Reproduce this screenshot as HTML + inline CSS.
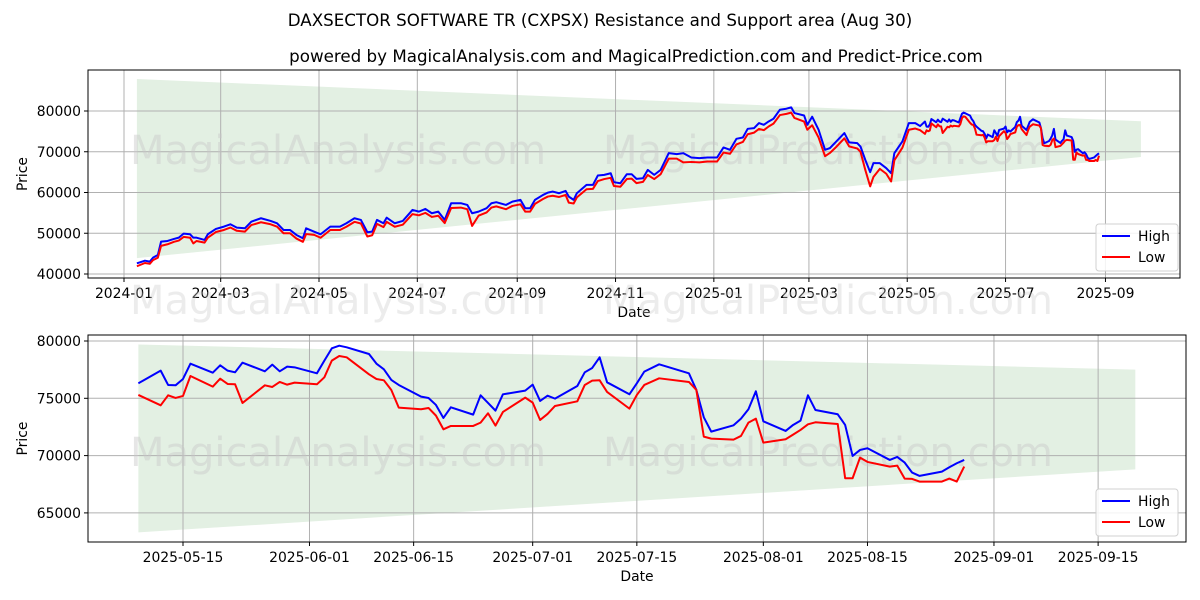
<!DOCTYPE html>
<html><head><meta charset="utf-8"><style>
body{margin:0;background:#fff}
svg{display:block;font-family:"DejaVu Sans","Liberation Sans",sans-serif}
</style></head><body>
<svg id="chart" width="1200" height="600" viewBox="0 0 1200 600" xmlns="http://www.w3.org/2000/svg">
<text x="600" y="26" font-size="16.7" text-anchor="middle">DAXSECTOR SOFTWARE TR (CXPSX) Resistance and Support area (Aug 30)</text>
<text x="636" y="62" font-size="16.7" text-anchor="middle">powered by MagicalAnalysis.com and MagicalPrediction.com and Predict-Price.com</text>
<g id="top"></g>
<g id="bot"></g>
</svg>
<script>
// Top chart: days since 2024-01-01
const topDays=[8,13,16,18,21,23,27,31,34,37,41,43,45,50,52,57,62,66,70,75,79,85,91,95,99,103,107,111,113,118,122,128,134,138,143,147,151,154,157,161,163,168,173,179,183,187,191,195,199,203,209,213,216,220,225,228,231,237,241,246,249,252,255,260,263,266,270,274,276,279,281,287,291,294,298,302,304,308,312,315,318,322,325,329,333,338,343,347,352,357,362,368,372,376,380,384,387,391,394,397,400,403,407,411,414,416,422,424,427,431,435,438,442,447,450,455,457,460,463,465,469,473,476,478,483,487,491];
const topHigh=[42625,43270,43030,44010,44670,47940,48110,48600,48920,49900,49750,48920,48920,48350,49750,51060,51630,52200,51380,51220,52850,53680,53020,52450,50810,50810,49580,48770,51220,50390,49750,51630,51630,52450,53680,53270,50240,50390,53270,52450,53830,52450,53020,55720,55310,55970,54910,55310,53270,57370,57370,56950,54910,55310,56140,57370,57620,56950,57770,58190,56140,56140,58190,59400,59970,60230,59820,60390,58990,58190,59820,61870,61870,64160,64320,64730,62530,62280,64490,64490,63340,63510,65550,64320,65550,69650,69410,69650,68590,68430,68590,68590,71050,70470,73170,73490,75630,75800,77030,76610,77430,78100,80320,80560,80890,79500,78900,76610,78600,75380,70470,70890,72520,74580,72290,72110,71280,67970,64990,67200,67200,65970,64730,69650,72520,77030,77030];
const topLow=[41900,42700,42500,43400,44000,46900,47300,47900,48200,49100,48900,47500,48100,47700,48900,50300,50800,51400,50600,50400,52000,52700,52200,51600,50000,50000,48700,47900,49800,49600,48900,50800,50800,51600,52800,52400,49200,49500,52300,51500,52800,51600,52100,54700,54400,55000,54000,54300,52500,56200,56300,55900,51800,54300,55100,56300,56600,55900,56700,57100,55300,55300,57200,58400,59000,59200,58900,59400,57500,57300,58800,60800,60900,62800,63300,63600,61600,61400,63300,63400,62300,62600,64300,63300,64500,68300,68300,67400,67500,67400,67600,67600,69800,69500,71800,72400,74300,74700,75600,75300,76200,76900,79000,79300,79600,78300,77400,75400,76500,73500,68900,69700,71200,73300,71300,70800,70000,65500,61500,63800,65800,64600,62700,67900,71000,75400,75700];
// Bottom chart: days since 2025-05-09
const botDays=[0,3,4,5,6,7,10,11,12,13,14,17,18,19,20,21,24,25,26,27,28,31,32,33,34,35,38,39,40,41,42,45,46,47,48,49,52,53,54,55,56,59,60,61,62,63,66,67,68,70,74,75,76,77,80,81,82,83,84,87,88,89,90,91,94,95,96,97,98,101,102,103,104,105,108,109,110,111];
const botHigh=[76308,77413,76163,76134,76686,78023,77238,77878,77413,77267,78110,77355,77936,77355,77762,77703,77180,78285,79360,79593,79448,78866,78023,77529,76599,76163,75145,75029,74419,73285,74215,73576,75262,74593,73924,75349,75669,76192,74767,75232,74971,76076,77267,77645,78576,76395,75349,76308,77326,77965,77180,75727,73343,72093,72645,73227,74040,75610,72994,72151,72674,73052,75262,73982,73605,72674,69971,70494,70640,69622,69884,69389,68517,68227,68604,68982,69331,69622];
const botLow=[75291,74390,75262,75029,75204,76948,76017,76715,76250,76221,74593,76134,75988,76424,76192,76366,76221,76831,78285,78692,78576,77093,76686,76570,75727,74186,74041,74157,73488,72296,72587,72587,72878,73692,72616,73808,75058,74622,73110,73634,74331,74738,76163,76541,76570,75552,74099,75291,76163,76744,76424,75727,71657,71483,71395,71715,72878,73227,71134,71424,71831,72238,72733,72907,72762,68023,68023,69826,69448,69041,69128,67994,67965,67732,67732,67994,67732,69041];
const topBand=[[8,87850,43900],[631,77500,68700]];
const botBand=[[0,79700,63300],[134,77500,68800]];
const topYTicks=[40000,50000,60000,70000,80000];
const topXTicks=[0,60,121,182,244,305,366,425,486,547,609];
const topXLabels=["2024-01","2024-03","2024-05","2024-07","2024-09","2024-11","2025-01","2025-03","2025-05","2025-07","2025-09"];
const botYTicks=[65000,70000,75000,80000];
const botXTicks=[6,23,37,53,67,84,98,115,129];
const botXLabels=["2025-05-15","2025-06-01","2025-06-15","2025-07-01","2025-07-15","2025-08-01","2025-08-15","2025-09-01","2025-09-15"];
const BOT_OFFSET=494; // 2025-05-09 in days since 2024-01-01

const NS="http://www.w3.org/2000/svg";
function mk(p,t,a){const e=document.createElementNS(NS,t);for(const k in a)e.setAttribute(k,a[k]);p.appendChild(e);return e;}

function panel(g,cfg){
  const {L,R,T,B,xs,ys}=cfg;
  const bg=mk(g,'rect',{x:L,y:T,width:R-L,height:B-T,fill:'#fff'});
  
  
  const band=cfg.band;
  const bp=mk(g,'polygon',{points:`${xs(band[0][0])},${ys(band[0][1])} ${xs(band[1][0])},${ys(band[1][1])} ${xs(band[1][0])},${ys(band[1][2])} ${xs(band[0][0])},${ys(band[0][2])}`,fill:'#e3f0e3'});
  
  
  cfg.xt.forEach((d,i)=>{
    const x=xs(d);
    const gl=mk(g,'line',{x1:x,x2:x,y1:T,y2:B,stroke:'#b0b0b0','stroke-width':1});
    
    
    mk(g,'line',{x1:x,x2:x,y1:B,y2:B+4,stroke:'#000'});
    const t=mk(g,'text',{x:x,y:B+20,'font-size':13.9,'text-anchor':'middle'});
    t.textContent=cfg.xl[i];
    
    
  });
  cfg.yt.forEach(v=>{
    const y=ys(v);
    const gl=mk(g,'line',{x1:L,x2:R,y1:y,y2:y,stroke:'#b0b0b0','stroke-width':1});
    
    
    mk(g,'line',{x1:L-4,x2:L,y1:y,y2:y,stroke:'#000'});
    const t=mk(g,'text',{x:L-7,y:y+5,'font-size':13.9,'text-anchor':'end'});
    t.textContent=v;
    
    
  });
  [['MagicalAnalysis.com',cfg.wm1],['MagicalPrediction.com',cfg.wm2]].forEach(w=>{
    const t=mk(g,'text',{x:w[1][0],y:w[1][1],'font-size':40,fill:'#c8c8c8','fill-opacity':0.45});
    t.textContent=w[0];
    
    
  });
  const line=(days,vals,col,name)=>{
    const p=mk(g,'polyline',{points:days.map((d,i)=>xs(d)+','+ys(vals[i])).join(' '),fill:'none',stroke:col,'stroke-width':2,'stroke-linejoin':'round'});
    
    
  };
  line(cfg.days,cfg.high,'#0000ff','high-line');
  line(cfg.days,cfg.low,'#ff0000','low-line');
  const fr=mk(g,'rect',{x:L,y:T,width:R-L,height:B-T,fill:'none',stroke:'#000','stroke-width':1});
  
  
  const yl=mk(g,'text',{x:27,y:(T+B)/2,'font-size':13.9,'text-anchor':'middle',transform:`rotate(-90 27 ${(T+B)/2})`});
  yl.textContent='Price';
  
  
  const xl=mk(g,'text',{x:(L+R)/2,y:B+39,'font-size':13.9,'text-anchor':'middle'});
  xl.textContent='Date';
  
  
  const lg=mk(g,'g',{});
  
  
  const [lx,ly]=cfg.leg;
  mk(lg,'rect',{x:lx,y:ly,width:82,height:47,rx:3,fill:'#fff','fill-opacity':0.85,stroke:'#d0d0d0'});
  [['High','#0000ff'],['Low','#ff0000']].forEach((e,i)=>{
    const eg=mk(lg,'g',{});
    
    
    mk(eg,'line',{x1:lx+6,x2:lx+34,y1:ly+12+i*21,y2:ly+12+i*21,stroke:e[1],'stroke-width':2});
    const t=mk(eg,'text',{x:lx+42,y:ly+17+i*21,'font-size':13.9});
    t.textContent=e[0];
  });
}

const allDays=topDays.concat(botDays.map(d=>d+BOT_OFFSET));
panel(document.getElementById('top'),{
  L:88,R:1180,T:70,B:278,
  xs:d=>124+d*1.6116,
  ys:v=>274-(v-40000)*0.004075,
  band:topBand,xt:topXTicks,xl:topXLabels,yt:topYTicks,
  days:allDays,high:topHigh.concat(botHigh),low:topLow.concat(botLow),
  wm1:[130,164],wm2:[603,164],leg:[1096,224]
});
panel(document.getElementById('bot'),{
  L:88,R:1186,T:335,B:542,
  xs:d=>183+(d-6)*7.44,
  ys:v=>341+(80000-v)*0.01146,
  band:botBand,xt:botXTicks,xl:botXLabels,yt:botYTicks,
  days:botDays,high:botHigh,low:botLow,
  wm1:[130,466],wm2:[603,466],leg:[1096,489]
});
[['MagicalAnalysis.com',130],['MagicalPrediction.com',603]].forEach(w=>{
  const t=mk(document.getElementById('chart'),'text',{x:w[1],y:314,'font-size':40,fill:'#c8c8c8','fill-opacity':0.35});
  t.textContent=w[0];
  
  
});
</script>
</body></html>
